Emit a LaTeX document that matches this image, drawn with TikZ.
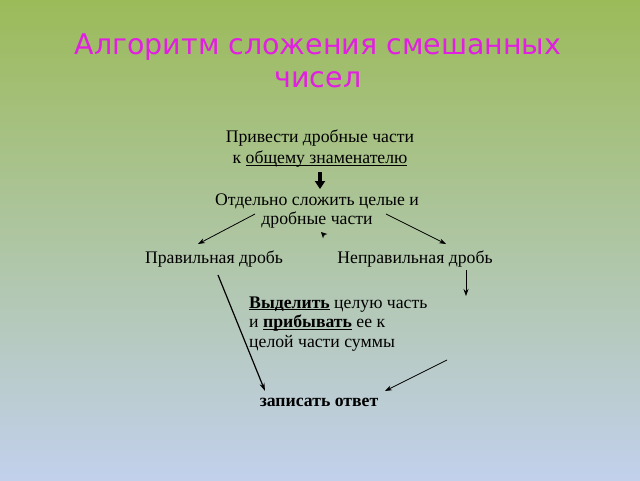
\documentclass[tikz,border=0pt]{standalone}
\usepackage{fontspec}
\setmainfont{Liberation Serif}
\newfontfamily\titlefont{DejaVu Sans}
\usetikzlibrary{arrows.meta}
\definecolor{bgtop}{RGB}{155,187,89}
\definecolor{bgbot}{RGB}{194,208,236}
\definecolor{ttl}{RGB}{226,30,226}
\newlength\myulw
\newcommand\myul[1]{\settowidth\myulw{#1}\rlap{\rule[-2pt]{\myulw}{0.9pt}}#1}
\tikzset{
  body/.style={font=\fontsize{17.7}{20}\selectfont, text=black, inner sep=0pt, align=center},
  conn/.style={line width=0.8pt, -{Stealth[length=7pt,width=5pt]}},
}
\begin{document}
\begin{tikzpicture}[x=1pt,y=-1pt]
\shade[top color=bgtop, bottom color=bgbot] (0,0) rectangle (640,480);
\useasboundingbox (0,0) rectangle (640,480);

\node[inner sep=0pt, align=center, text=ttl, font=\titlefont\fontsize{28.5}{33}\selectfont] (title) at (318,61) {Алгоритм сложения смешанных\\чисел};

\node[body, font=\fontsize{17.7}{21}\selectfont] (n1) at (320,149) {Привести дробные части\\к \myul{общему знаменателю}};
\node[body, font=\fontsize{17.7}{19.5}\selectfont] (n2) at (317,211) {Отдельно сложить целые и\\дробные части};
\node[body] (n3) at (214,259) {Правильная дробь};
\node[body] (n4) at (415,259) {Неправильная дробь};
\node[body, anchor=west, align=left, font=\fontsize{17.7}{19.5}\selectfont] (n5) at (249,324) {\myul{\textbf{Выделить}} целую часть\\и \myul{\textbf{прибывать}} ее к\\целой части суммы};
\node[body] (n6) at (319,402) {\textbf{записать ответ}};

\coordinate (a1s) at (320,172); \coordinate (a1e) at (320,189);
\draw[line width=3.5pt, -{Triangle[length=8pt,width=10pt]}] (a1s) -- (a1e);

\coordinate (t1) at (324.5,235.5); \coordinate (t2) at (321,232);
\draw[line width=0.6pt, -{Stealth[length=6pt,width=6pt]}] (t1) -- (t2);

\coordinate (l1) at (255,214); \coordinate (l2) at (198,244);
\draw[conn] (l1) -- (l2);
\coordinate (r1) at (386,214); \coordinate (r2) at (446,244);
\draw[conn] (r1) -- (r2);
\coordinate (d1) at (218,275); \coordinate (d2) at (265,391);
\draw[line width=1.2pt, -{Stealth[length=8pt,width=5pt]}] (d1) -- (d2);
\coordinate (v1) at (466,270); \coordinate (v2) at (466,296);
\draw[conn] (v1) -- (v2);
\coordinate (w1) at (447,360); \coordinate (w2) at (385,391);
\draw[conn] (w1) -- (w2);
\end{tikzpicture}
\end{document}
